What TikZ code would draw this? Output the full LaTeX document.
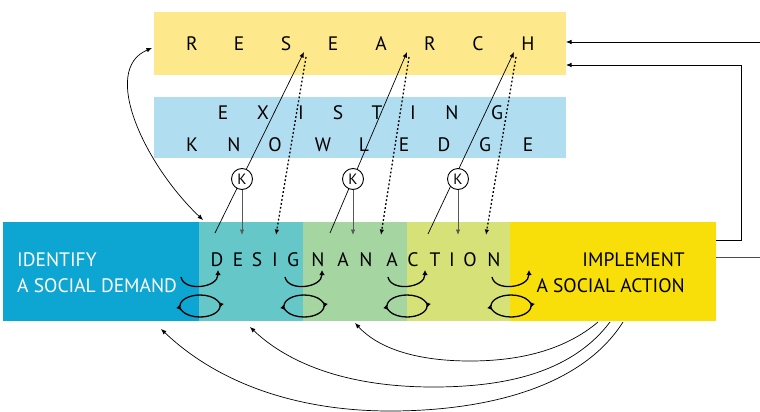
\documentclass[tikz,border=0pt]{standalone}
\usepackage{fontspec}
\setmainfont{PT Sans}
\usetikzlibrary{arrows.meta,calc}
\definecolor{resY}{HTML}{FDE98C}
\definecolor{knwB}{HTML}{B0DDF0}
\definecolor{idB}{HTML}{0DA5D1}
\definecolor{desT}{HTML}{66C7C8}
\definecolor{nanG}{HTML}{A5D6A1}
\definecolor{actL}{HTML}{D6E278}
\definecolor{impY}{HTML}{F8DF0A}
\begin{document}
\begin{tikzpicture}[x=1pt,y=1pt,
  box/.style={inner sep=0pt,outer sep=0pt,anchor=north west,draw=none},
  lt/.style={inner sep=0pt,anchor=base,font=\fontsize{19.5}{19.5}\selectfont},
  bigtxt/.style={inner sep=0pt,font=\fontsize{19.5}{20}\selectfont},
  arr/.style={-{Latex[length=5.5pt,width=4.5pt]},line width=0.7pt},
  dbl/.style={{Latex[length=5.5pt,width=4.5pt]}-{Latex[length=5.5pt,width=4.5pt]},line width=0.7pt},
  dotarr/.style={-{Latex[length=5.5pt,width=4.5pt]},line width=1.3pt,dash pattern=on 1.8pt off 2.2pt},
  lp/.style={-{Latex[length=5pt,width=5.5pt]},line width=1.3pt},
  kc/.style={circle,draw,fill=white,minimum size=21pt,inner sep=0pt,line width=0.9pt,font=\fontsize{15}{15}\selectfont},
  karr/.style={-{Latex[length=5.5pt,width=4.5pt]},line width=0.8pt,draw=black!65}]
\useasboundingbox (0,0) rectangle (760,-412);

% boxes
\node[box,fill=resY,minimum width=412pt,minimum height=63pt] (research) at (154,-12) {};
\node[box,fill=knwB,minimum width=412pt,minimum height=61pt] (knowledge) at (154,-97) {};
\node[box,fill=idB,minimum width=196pt,minimum height=99pt] (identify) at (3,-222) {};
\node[box,fill=desT,minimum width=104pt,minimum height=99pt] (design) at (199,-222) {};
\node[box,fill=nanG,minimum width=104pt,minimum height=99pt] (nan) at (303,-222) {};
\node[box,fill=actL,minimum width=103pt,minimum height=99pt] (action) at (407,-222) {};
\node[box,fill=impY,minimum width=206pt,minimum height=99pt] (implement) at (510,-222) {};

% letters
\foreach \ch/\x [count=\i] in {R/192,E/239,S/286,E/333,A/381,R/430,C/478,H/528}
  \node[lt] (res\i) at (\x,-50.7) {\ch};
\foreach \ch/\x [count=\i] in {E/223,X/263,I/301,S/338,T/377,I/413,N/452,G/497}
  \node[lt] (exi\i) at (\x,-119.3) {\ch};
\foreach \ch/\x [count=\i] in {K/192,N/234,O/275,W/323,L/364,E/404,D/444,G/485,E/528}
  \node[lt] (kno\i) at (\x,-151.7) {\ch};
\foreach \ch/\x [count=\i] in {D/217,E/238,S/257,I/275,G/293,N/318,A/343,N/366,A/392,C/413,T/435,I/452,O/470,N/494}
  \node[lt] (dna\i) at (\x,-266.7) {\ch};

\node[bigtxt,white,anchor=base west] (idt1) at (17,-266) {IDENTIFY};
\node[bigtxt,white,anchor=base west] (idt2) at (17,-292.7) {A SOCIAL DEMAND};
\node[bigtxt,anchor=base east] (imp1) at (685,-266) {IMPLEMENT};
\node[bigtxt,anchor=base east] (imp2) at (685,-292.7) {A SOCIAL ACTION};

% coordinates for the knowledge links
\coordinate (sa1) at (215,-233); \coordinate (ra1) at (304,-52);
\coordinate (sa2) at (330,-233); \coordinate (ra2) at (407,-52);
\coordinate (sa3) at (428,-234); \coordinate (ra3) at (514,-52);
\coordinate (da1) at (306,-57); \coordinate (db1) at (276,-235);
\coordinate (da2) at (409,-57); \coordinate (db2) at (381,-235);
\coordinate (da3) at (516,-57); \coordinate (db3) at (486,-235);
\coordinate (kt1) at (242,-235);
\coordinate (kt2) at (353,-235);
\coordinate (kt3) at (458,-235);

\draw[arr] (sa1) -- (ra1);
\draw[arr] (sa2) -- (ra2);
\draw[arr] (sa3) -- (ra3);
\draw[dotarr] (da1) -- (db1);
\draw[dotarr] (da2) -- (db2);
\draw[dotarr] (da3) -- (db3);

\node[kc] (k1) at (242,-179) {K};
\node[kc] (k2) at (353,-179) {K};
\node[kc] (k3) at (458,-179) {K};
\draw[karr] (k1.south) -- (kt1);
\draw[karr] (k2.south) -- (kt2);
\draw[karr] (k3.south) -- (kt3);

% left curved double arrow
\coordinate (lc0) at (152,-48);
\coordinate (lc1) at (203,-220);
\draw[dbl] (lc0) .. controls (100,-70) and (145,-165) .. (lc1);

% right connectors
\coordinate (inR) at (760,-42);
\coordinate (cR) at (741,-65);
\coordinate (outR) at (760,-257);
\draw[arr] (inR) -- (research.east |- inR);
\draw[arr,line width=0.8pt] (implement.east |- 0,-240) -| (cR) -- (research.east |- cR);
\draw[line width=0.8pt,draw=black!70] (implement.east |- outR) -- (outR);

% smile arrows and loops at boundaries
\foreach \b [count=\i] in {200,304,407,511} {
  \coordinate (sma\i) at (\b-19,-277);
  \coordinate (smb\i) at (\b+18,-270);
  \draw[lp] (sma\i) .. controls +(3,-15) and +(0,-18) .. (smb\i);
  \coordinate (lpc\i) at (\b,-306);
  \draw[lp] ($(lpc\i)+(180:20 and 11)$) arc[start angle=180,end angle=-10,x radius=20,y radius=11];
  \draw[lp] ($(lpc\i)+(0:20 and 11)$) arc[start angle=360,end angle=170,x radius=20,y radius=11];
}

% bottom return arrows
\coordinate (b1s) at (598,-322); \coordinate (b1e) at (355,-323);
\coordinate (b2s) at (610,-322); \coordinate (b2e) at (250,-327);
\coordinate (b3s) at (623,-322); \coordinate (b3e) at (161,-329);
\draw[arr] (b1s) .. controls (565,-350) and (520,-361) .. (470,-361) .. controls (420,-361) and (380,-350) .. (b1e);
\draw[arr] (b2s) .. controls (570,-375) and (500,-387) .. (433,-387) .. controls (350,-387) and (290,-365) .. (b2e);
\draw[arr] (b3s) .. controls (580,-390) and (480,-411) .. (390,-411) .. controls (300,-411) and (220,-385) .. (b3e);
\end{tikzpicture}
\end{document}
